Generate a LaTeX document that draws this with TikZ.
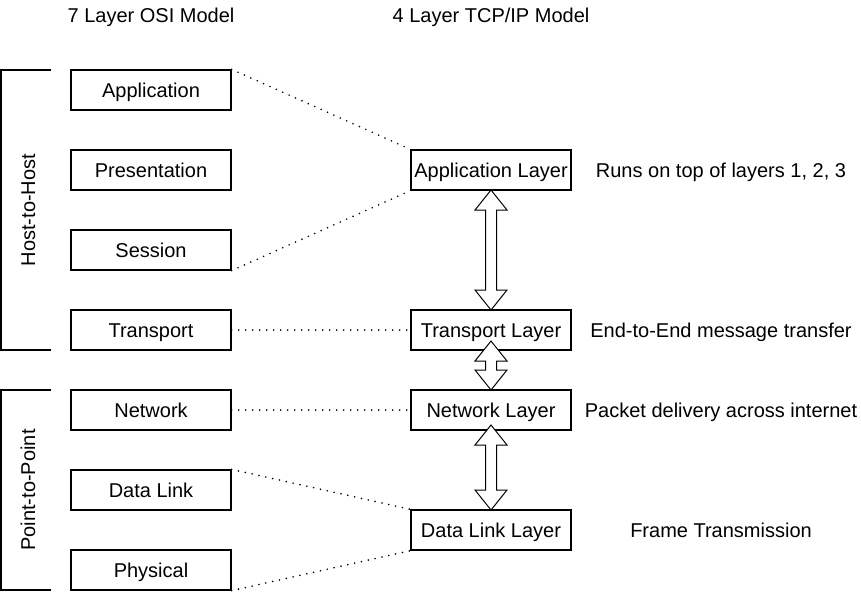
\documentclass[tikz,border=0pt]{standalone}
\usepackage{fontspec}
\setmainfont{Liberation Sans}
\begin{document}
\begin{tikzpicture}[x=1pt,y=-1pt,
  lbox/.style={draw, line width=1.3pt, minimum width=160pt, minimum height=40pt, inner sep=0pt, font=\fontsize{20}{22}\selectfont, text height=15pt, text depth=1pt},
  txt/.style={font=\fontsize{20}{22}\selectfont, inner sep=0pt, text height=15pt, text depth=1pt},
  dots/.style={line width=1.8pt, dash pattern=on 0pt off 7pt, line cap=round},
  brack/.style={line width=1.3pt},
  blockarrow/.style={draw, line width=1pt, fill=white, line join=miter}
]
\useasboundingbox (0,0) rectangle (861,592);
% titles
\node[txt] (t1) at (151,15) {7 Layer OSI Model};
\node[txt] (t2) at (491,15) {4 Layer TCP/IP Model};
% OSI boxes
\node[lbox] (app) at (151,90) {Application};
\node[lbox] (pres) at (151,170) {Presentation};
\node[lbox] (sess) at (151,250) {Session};
\node[lbox] (trans) at (151,330) {Transport};
\node[lbox] (net) at (151,410) {Network};
\node[lbox] (dl) at (151,490) {Data Link};
\node[lbox] (phy) at (151,570) {Physical};
% TCP/IP boxes
\node[lbox] (tapp) at (491,170) {Application Layer};
\node[lbox] (ttrans) at (491,330) {Transport Layer};
\node[lbox] (tnet) at (491,410) {Network Layer};
\node[lbox] (tdl) at (491,530) {Data Link Layer};
% descriptions
\node[txt] (d1) at (721,170) {Runs on top of layers 1, 2, 3};
\node[txt] (d2) at (721,330) {End-to-End message transfer};
\node[txt] (d3) at (721,410) {Packet delivery across internet};
\node[txt] (d4) at (721,530) {Frame Transmission};
% dotted mappings
\draw[dots] (app.north east) -- (tapp.north west);
\draw[dots] (sess.south east) -- (tapp.south west);
\draw[dots] (trans.east) -- (ttrans.west);
\draw[dots] (net.east) -- (tnet.west);
\draw[dots] (dl.north east) -- (tdl.north west);
\draw[dots] (phy.south east) -- (tdl.south west);
% brackets
\coordinate (b1a) at (51,70);
\coordinate (b1b) at (51,350);
\draw[brack] (b1a) -- (1,70) -- (1,350) -- (b1b);
\node[txt, rotate=90] (hh) at (28,210) {Host-to-Host};
\coordinate (b2a) at (51,390);
\coordinate (b2b) at (51,590);
\draw[brack] (b2a) -- (1,390) -- (1,590) -- (b2b);
\node[txt, rotate=90] (pp) at (28,490) {Point-to-Point};
% block arrows
\newcommand\dblarrow[3]{%
  \draw[blockarrow] (#1,#2) -- (#1+16,#2+20) -- (#1+5.5,#2+20) -- (#1+5.5,#3-20) -- (#1+16,#3-20) -- (#1,#3)
   -- (#1-16,#3-20) -- (#1-5.5,#3-20) -- (#1-5.5,#2+20) -- (#1-16,#2+20) -- cycle;}
\dblarrow{491}{190}{310}
\dblarrow{491}{341}{390}
\dblarrow{491}{425}{510}
\end{tikzpicture}
\end{document}
